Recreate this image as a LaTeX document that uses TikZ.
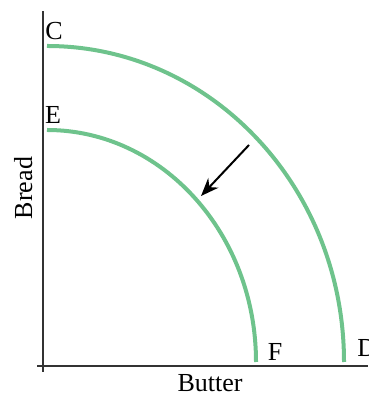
\documentclass[tikz,border=0pt]{standalone}
\usepackage{fontspec}
\setmainfont{Liberation Serif}
\usepackage{xcolor}
\usepackage{tikz}
\usetikzlibrary{arrows.meta}
\definecolor{ppfgreen}{HTML}{6EC38C}
\definecolor{axisgray}{HTML}{333333}

\begin{document}
\begin{tikzpicture}[x=0.5pt, y=0.5pt, every node/.style={font=\fontsize{13}{15}\selectfont, inner sep=0pt, anchor=base}]
\useasboundingbox (0,0) rectangle (368,394);
% axes
\draw[axisgray, line width=0.8pt] (43,22) -- (43,383);
\draw[axisgray, line width=0.8pt] (37,28) -- (368,28);
% frontiers
\draw[ppfgreen, line width=2pt] (47,348) arc[start angle=90, end angle=0, x radius=297, y radius=316];
\draw[ppfgreen, line width=2pt] (47,264) arc[start angle=90, end angle=0, x radius=209, y radius=232];
% shift arrow
\coordinate (shiftfrom) at (249,249);
\coordinate (shiftto) at (201,198);
\draw[black, line width=1pt, -{Stealth[length=9pt, width=7pt]}] (shiftfrom) -- (shiftto);
% labels
\node (labC) at (54,354) {C};
\node (labE) at (53,270) {E};
\node (labF) at (275,33) {F};
\node[anchor=base west] (labD) at (357,37) {D};
\node[rotate=90] (ylab) at (32,206) {Bread};
\node (xlab) at (210,3) {Butter};
\end{tikzpicture}
\end{document}
